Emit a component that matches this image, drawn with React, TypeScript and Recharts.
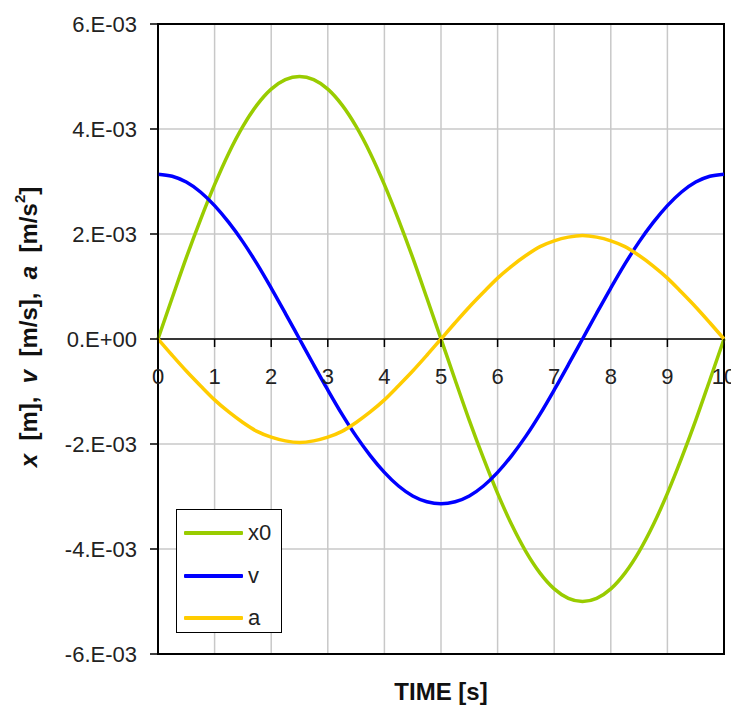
import { LineChart, Line, CartesianGrid, XAxis, YAxis, ReferenceLine, ReferenceDot, ReferenceArea, Legend } from 'recharts';

// time [s]
const time = [0, 0.25, 0.5, 0.75, 1, 1.25, 1.5, 1.75, 2, 2.25, 2.5, 2.75, 3, 3.25, 3.5, 3.75, 4, 4.25, 4.5, 4.75, 5,
    5.25, 5.5, 5.75, 6, 6.25, 6.5, 6.75, 7, 7.25, 7.5, 7.75, 8, 8.25, 8.5, 8.75, 9, 9.25, 9.5, 9.75, 10];

// values in units of 1E-03
const x0 = [0, 0.78, 1.55, 2.27, 2.94, 3.54, 4.05, 4.46, 4.76, 4.94, 5.0, 4.94, 4.76, 4.46, 4.05, 3.54, 2.94, 2.27, 1.55, 0.78, 0,
    -0.78, -1.55, -2.27, -2.94, -3.54, -4.05, -4.46, -4.76, -4.94, -5.0, -4.94, -4.76, -4.46, -4.05, -3.54, -2.94, -2.27, -1.55, -0.78, 0];
const v = [3.14, 3.1, 2.99, 2.8, 2.54, 2.22, 1.85, 1.43, 0.97, 0.49, 0, -0.49, -0.97, -1.43, -1.85, -2.22, -2.54, -2.8, -2.99, -3.1, -3.14,
    -3.1, -2.99, -2.8, -2.54, -2.22, -1.85, -1.43, -0.97, -0.49, 0, 0.49, 0.97, 1.43, 1.85, 2.22, 2.54, 2.8, 2.99, 3.1, 3.14];
const a = [0, -0.31, -0.61, -0.89, -1.16, -1.39, -1.59, -1.76, -1.87, -1.94, -1.97, -1.94, -1.87, -1.76, -1.59, -1.39, -1.16, -0.89, -0.61, -0.31, 0,
    0.31, 0.61, 0.89, 1.16, 1.39, 1.59, 1.76, 1.87, 1.94, 1.97, 1.94, 1.87, 1.76, 1.59, 1.39, 1.16, 0.89, 0.61, 0.31, 0];

const xTicks = [0, 1, 2, 3, 4, 5, 6, 7, 8, 9, 10];
const yTicks = [-6, -4, -2, 0, 2, 4, 6];

const series = [
    { key: 'x0', name: 'x0', color: '#99CC00' },
    { key: 'v', name: 'v', color: '#0000FF' },
    { key: 'a', name: 'a', color: '#FFCC00' },
];

const data = time.map((t, i) => ({ t, x0: x0[i], v: v[i], a: a[i] }));

const FONT = '"Liberation Sans", Arial, sans-serif';

const fmtY = (val: number) => (val === 0 ? '0.E+00' : `${val}.E-03`);

const XTick = (props: any) => {
    const { cx, cy, payload } = props;
    return (
        <g>
            <line x1={cx} y1={cy} x2={cx} y2={cy + 8} stroke="#000" strokeWidth={1.5} />
            <text x={cx} y={cy + 45} textAnchor="middle" fontSize={22} fontFamily={FONT} fill="#222">{payload}</text>
        </g>
    );
};

const YTitle = (props: any) => {
    const { viewBox } = props;
    const cx = viewBox.x + 20;
    const cy = viewBox.y + 303;
    return (
        <text x={cx} y={cy} transform={`rotate(-90 ${cx} ${cy})`} textAnchor="middle" dominantBaseline="central"
            fontSize={24} fontWeight="bold" fontFamily={FONT} fill="#111" xmlSpace="preserve">
            <tspan fontStyle="italic">x</tspan>
            <tspan>{'  [m],  '}</tspan>
            <tspan fontStyle="italic">v</tspan>
            <tspan>{'  [m/s],  '}</tspan>
            <tspan fontStyle="italic">a</tspan>
            <tspan>{'  [m/s'}</tspan>
            <tspan fontSize={15} dy={-9}>2</tspan>
            <tspan dy={9}>]</tspan>
        </text>
    );
};

const XTitle = (props: any) => {
    const { viewBox } = props;
    return (
        <text x={viewBox.x + viewBox.width / 2} y={viewBox.y + 46} textAnchor="middle"
            fontSize={24} fontWeight="bold" fontFamily={FONT} fill="#111">TIME [s]</text>
    );
};

const LegendBox = () => (
    <div style={{ width: 104, height: 122, border: '1.5px solid #000', background: '#fff', position: 'relative' }}>
        {series.map((s, i) => (
            <div key={s.key} style={{ position: 'absolute', left: 7, top: 10 + i * 42.5, display: 'flex', alignItems: 'center', height: 26 }}>
                <div style={{ width: 59, height: 4, background: s.color, borderRadius: 1 }} />
                <span style={{ marginLeft: 5, fontSize: 22, fontFamily: FONT, color: '#222', lineHeight: '26px' }}>{s.name}</span>
            </div>
        ))}
    </div>
);

export default function App() {
    return (
        <div style={{ width: 731, height: 697 }}>
            <LineChart width={731} height={697} data={data} margin={{ top: 16, right: 15, bottom: 0, left: 0 }}>
                <CartesianGrid stroke="#c8c8c8" strokeWidth={1.5} vertical horizontal />
                <XAxis dataKey="t" type="number" domain={[0, 10]} ticks={xTicks} height={51}
                    axisLine={false} tickLine={false} tick={() => <g />} label={{ content: XTitle }} />
                <YAxis type="number" domain={[-6, 6]} ticks={yTicks} width={150} tickFormatter={fmtY}
                    tickSize={8} tickMargin={13} axisLine={{ stroke: '#000', strokeWidth: 1.5 }}
                    tickLine={{ stroke: '#000', strokeWidth: 1.5 }}
                    tick={{ fontSize: 22, fontFamily: FONT, fill: '#222' }} label={{ content: YTitle }} />
                <ReferenceArea x1={0} x2={10} y1={-6} y2={6} fill="none" fillOpacity={0} stroke="#000" strokeWidth={2} />
                <ReferenceLine y={0} stroke="#000" strokeWidth={1.5} />
                {xTicks.map((t) => (
                    <ReferenceDot key={t} x={t} y={0} r={0} ifOverflow="visible"
                        shape={(p: any) => <XTick {...p} payload={t} />} />
                ))}
                <Legend layout="horizontal" verticalAlign="middle" content={LegendBox}
                    wrapperStyle={{ left: 168, top: 501, width: 107, height: 125 }} />
                {series.map((s) => (
                    <Line key={s.key} dataKey={s.key} name={s.name} type="monotone" stroke={s.color}
                        strokeWidth={3.5} dot={false} isAnimationActive={false} />
                ))}
            </LineChart>
        </div>
    );
}
